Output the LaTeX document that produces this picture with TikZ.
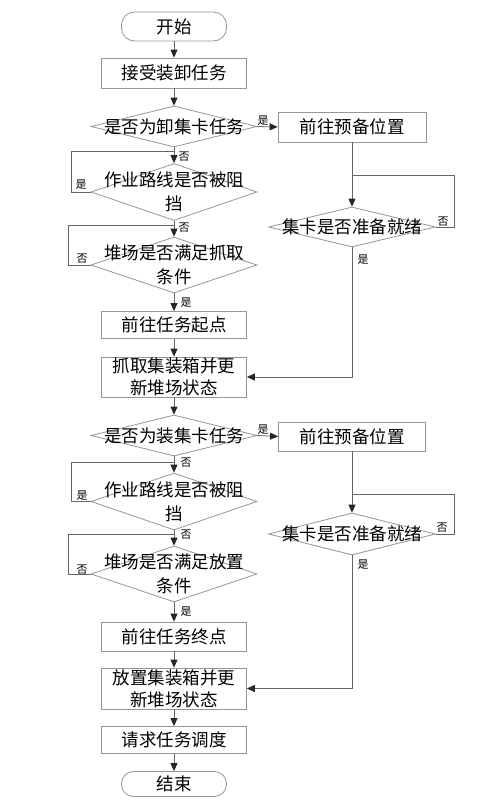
\documentclass[tikz,border=0pt]{standalone}
\usepackage{fontspec}
\newfontfamily\hei{Noto Sans CJK SC}
\usetikzlibrary{shapes.geometric,arrows.meta}
\definecolor{boxgray}{RGB}{150,150,150}
\definecolor{linegray}{RGB}{100,100,100}
\tikzset{
 proc/.style={draw=boxgray, line width=0.8pt, minimum width=145pt, inner sep=0pt, align=center, font=\hei\fontsize{17.5}{22}\selectfont},
 term/.style={proc, rounded corners=13pt, minimum width=105pt},
 dtext/.style={align=center, inner sep=0pt, font=\hei\fontsize{17.5}{24}\selectfont},
 decision/.style 2 args={diamond, draw=boxgray, line width=0.8pt, inner sep=0pt, minimum width=166pt, minimum height=#1, label={[dtext]center:#2}},
 flow/.style={draw=linegray, line width=0.8pt},
 arrow/.style={flow, -{Triangle[length=8pt,width=7pt,color=black!85]}},
 lbl/.style={font=\hei\fontsize{11}{11}\selectfont, inner sep=0pt}
}
\begin{document}
\begin{tikzpicture}[x=1pt,y=-1pt]
\useasboundingbox (0,0) rectangle (484,811);
% unloading half
\node[term, minimum height=29pt] (start) at (174,26.5) {开始};
\node[proc, minimum height=30pt] (recv) at (174,73) {接受装卸任务};
\node[decision={41pt}{是否为卸集卡任务}] (qunload) at (174,126.5) {};
\node[proc, minimum width=148pt, minimum height=30pt] (wait1) at (352,127) {前往预备位置};
\node[decision={57pt}{作业路线是否被阻\\挡}] (qpath1) at (174,192) {};
\node[decision={56pt}{堆场是否满足抓取\\条件}] (qyard1) at (174,265) {};
\node[decision={40pt}{集卡是否准备就绪}, minimum width=167pt] (qtruck1) at (352,227) {};
\node[proc, minimum height=27pt] (gostart) at (174,325) {前往任务起点};
\node[proc, minimum height=40pt] (grab) at (174,377) {抓取集装箱并更\\新堆场状态};
\coordinate (j1) at (174,151);
\coordinate (j2) at (174,225);
\coordinate (j3) at (352,175);
\draw[arrow] (start) -- (recv);
\draw[arrow] (recv) -- (qunload);
\draw[arrow] (qunload.east) -- (wait1.west);
\draw[arrow] (qunload.south) -- (qpath1.north);
\draw[arrow] (qpath1.south) -- (qyard1.north);
\draw[arrow] (qyard1.south) -- (gostart.north);
\draw[arrow] (gostart) -- (grab);
\draw[flow] (qpath1.west) -- ++(-19,0) |- (j1);
\draw[flow] (qyard1.west) -- ++(-22,0) |- (j2);
\draw[arrow] (wait1.south) -- (qtruck1.north);
\draw[flow] (qtruck1.east) -- ++(18,0) |- (j3);
\draw[arrow] (qtruck1.south) |- (grab.east);
\node[lbl] (y1) at (263,121) {是};
\node[lbl] (n1) at (184,157) {否};
\node[lbl] (y2) at (81,185) {是};
\node[lbl] (n2) at (184,228) {否};
\node[lbl] (n3) at (82,259) {否};
\node[lbl] (y3) at (186,303) {是};
\node[lbl] (n4) at (443,222) {否};
\node[lbl] (y4) at (363,260) {是};
% loading half
\node[decision={41pt}{是否为装集卡任务}] (qload) at (174,435.5) {};
\node[proc, minimum width=147pt, minimum height=29pt] (wait2) at (352,436.5) {前往预备位置};
\node[decision={57pt}{作业路线是否被阻\\挡}] (qpath2) at (174,501.5) {};
\node[decision={56pt}{堆场是否满足放置\\条件}] (qyard2) at (174,574) {};
\node[decision={42pt}{集卡是否准备就绪}, minimum width=167pt] (qtruck2) at (352,534) {};
\node[proc, minimum height=29pt] (goend) at (174,636.5) {前往任务终点};
\node[proc, minimum height=41pt] (place) at (174,688.5) {放置集装箱并更\\新堆场状态};
\node[proc, minimum height=27pt] (ask) at (174,740) {请求任务调度};
\node[term, minimum height=25pt, rounded corners=12pt] (stop) at (174,784) {结束};
\coordinate (j4) at (174,462);
\coordinate (j5) at (174,534);
\coordinate (j6) at (352,494);
\draw[arrow] (grab) -- (qload);
\draw[arrow] (qload.east) -- (wait2.west);
\draw[arrow] (qload.south) -- (qpath2.north);
\draw[arrow] (qpath2.south) -- (qyard2.north);
\draw[arrow] (qyard2.south) -- (goend.north);
\draw[arrow] (goend) -- (place);
\draw[arrow] (place) -- (ask);
\draw[arrow] (ask) -- (stop);
\draw[flow] (qpath2.west) -- ++(-19,0) |- (j4);
\draw[flow] (qyard2.west) -- ++(-22,0) |- (j5);
\draw[arrow] (wait2.south) -- (qtruck2.north);
\draw[flow] (qtruck2.east) -- ++(18,0) |- (j6);
\draw[arrow] (qtruck2.south) |- (place.east);
\node[lbl] (y5) at (263,430) {是};
\node[lbl] (n5) at (186,463) {否};
\node[lbl] (y6) at (82,496) {是};
\node[lbl] (n6) at (186,535) {否};
\node[lbl] (n7) at (82,570) {否};
\node[lbl] (y7) at (186,612) {是};
\node[lbl] (n8) at (442,528) {否};
\node[lbl] (y8) at (363,565) {是};
\end{tikzpicture}
\end{document}
